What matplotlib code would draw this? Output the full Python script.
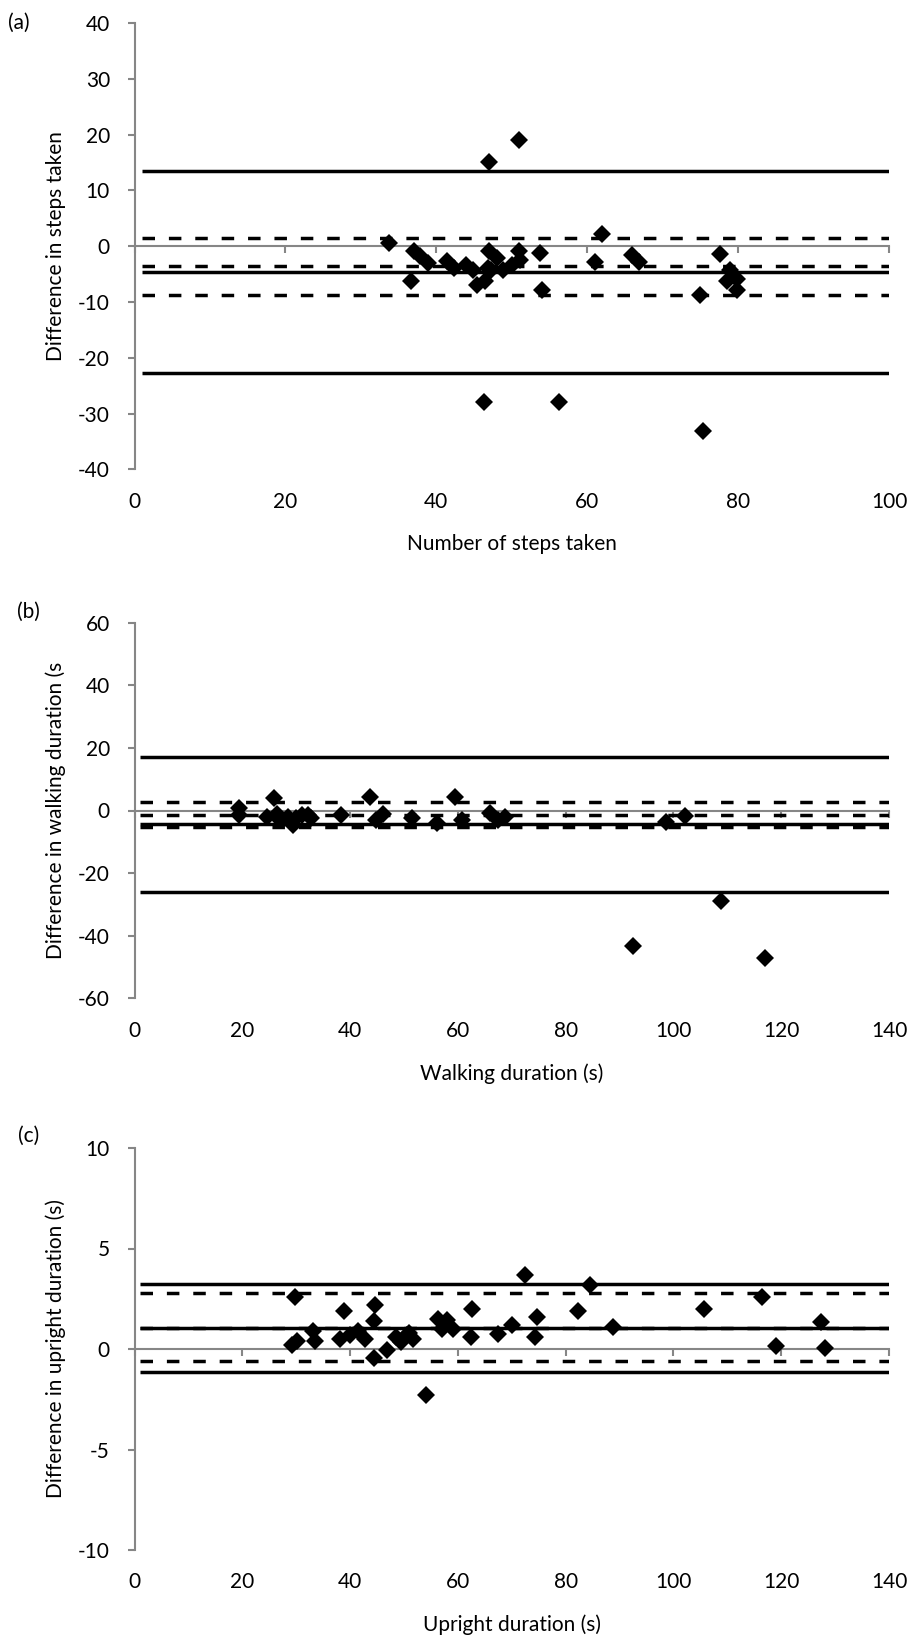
import matplotlib
matplotlib.use('Agg')
import matplotlib.pyplot as plt
import numpy as np

plt.rcParams['font.family'] = ['Lato', 'DejaVu Sans']
plt.rcParams['axes.unicode_minus'] = False

# Panel (a): steps taken
steps_x = [33.7, 36.7, 37.0, 37.8, 38.9, 41.4, 42.4, 44.0, 44.9, 45.4, 46.3, 46.5, 46.8,
           47.0, 47.0, 47.3, 48.0, 48.8, 50.0, 51.0, 51.0, 51.1, 53.7, 54.0, 56.3,
           61.0, 61.9, 65.9, 66.9, 74.9, 75.3, 77.6, 78.9, 78.5, 79.8, 79.8]
steps_y = [0.6, -6.3, -0.9, -1.8, -3.0, -2.7, -3.9, -3.3, -4.2, -6.9, -28.0, -6.3, -4.0,
           15.0, -0.8, -4.2, -2.1, -4.2, -3.3, 19.0, -0.8, -2.4, -1.3, -7.8, -28.0,
           -2.8, 2.2, -1.5, -2.8, -8.8, -33.2, -1.4, -4.3, -6.3, -5.8, -7.9]
# solid: limits of agreement and mean, dashed: confidence bounds
steps_solid = [13.5, -4.6, -22.8]
steps_dashed = [1.5, -3.6, -8.8]

# Panel (b): walking duration
walk_x = [19.3, 19.3, 24.5, 25.8, 26.5, 27.0, 28.5, 29.5, 30.0, 31.0, 32.2, 32.8,
          38.4, 43.7, 44.9, 46.2, 51.4, 56.1, 59.5, 60.7, 66.0, 67.5, 68.7,
          92.5, 98.7, 102.1, 108.9, 117.0]
walk_y = [0.7, -1.4, -2.0, 3.9, -1.0, -3.0, -2.0, -4.6, -2.5, -1.5, -1.4, -2.5,
          -1.4, 4.4, -3.0, -1.2, -2.5, -4.1, 4.4, -3.0, -0.9, -3.0, -2.2,
          -43.3, -3.6, -1.8, -29.0, -47.0]
walk_solid = [17.0, -4.4, -25.9]
walk_dashed = [2.6, -1.5, -5.4]

# Panel (c): upright duration
up_x = [29.8, 29.3, 30.1, 33.2, 33.5, 38.1, 38.9, 40.0, 41.5, 42.8, 44.6, 44.5, 44.5,
        46.8, 48.6, 49.5, 50.5, 51.0, 51.7, 54.0, 56.4, 57.0, 57.9, 59.1, 62.7, 62.4,
        67.5, 70.0, 72.4, 74.6, 74.3, 82.3, 84.5, 88.8, 105.7, 116.4, 119.0, 127.3, 128.2]
up_y = [2.6, 0.2, 0.4, 0.9, 0.4, 0.5, 1.9, 0.7, 0.9, 0.5, 2.2, 1.4, -0.45,
        -0.05, 0.6, 0.35, 0.7, 0.8, 0.5, -2.3, 1.5, 1.0, 1.45, 1.0, 2.0, 0.6,
        0.75, 1.2, 3.7, 1.6, 0.6, 1.9, 3.2, 1.1, 2.0, 2.6, 0.15, 1.35, 0.05]
up_solid = [3.25, 1.05, -1.15]
up_dashed = [2.8, 1.05, -0.6]

panels = [
    dict(tag='(a)', x=steps_x, y=steps_y, solid=steps_solid, dashed=steps_dashed,
         xmax=100, xticks=np.arange(0, 101, 20), ylim=40, ystep=10,
         xlabel='Number of steps taken', ylabel='Difference in steps taken',
         rect=[134.5, 23, 889, 469.3], tag_pos=(8, 23)),
    dict(tag='(b)', x=walk_x, y=walk_y, solid=walk_solid, dashed=walk_dashed,
         xmax=140, xticks=np.arange(0, 141, 20), ylim=60, ystep=20,
         xlabel='Walking duration (s)', ylabel='Difference in walking duration (s',
         rect=[134.5, 622.7, 889, 998.3], tag_pos=(17, 612)),
    dict(tag='(c)', x=up_x, y=up_y, solid=up_solid, dashed=up_dashed,
         xmax=140, xticks=np.arange(0, 141, 20), ylim=10, ystep=5,
         xlabel='Upright duration (s)', ylabel='Difference in upright duration (s)',
         rect=[134.5, 1148, 889, 1550], tag_pos=(18, 1136)),
]

W, H = 911, 1638
gray = '#868686'
fs = 15

fig = plt.figure(figsize=(W / 100, H / 100), dpi=100)

for p in panels:
    l, t, r, b = p['rect']
    ax = fig.add_axes([l / W, 1 - b / H, (r - l) / W, (b - t) / H])
    ax.set_xlim(0, p['xmax'])
    ax.set_ylim(-p['ylim'], p['ylim'])

    # reference lines
    xs = [1, p['xmax']]
    for v in p['dashed']:
        ax.plot(xs, [v, v], color='black', lw=2.5, linestyle=(0, (3.6, 4.0)),
                dash_capstyle='butt', zorder=2)
    for v in p['solid']:
        ax.plot(xs, [v, v], color='black', lw=2.5, solid_capstyle='butt', zorder=2)

    ax.plot(p['x'], p['y'], linestyle='none', marker='D', markersize=8.7,
            color='black', markeredgewidth=0, zorder=3)

    # axes styling
    for s in ['top', 'right']:
        ax.spines[s].set_visible(False)
    ax.spines['left'].set_color(gray)
    ax.spines['left'].set_linewidth(1.5)
    ax.spines['bottom'].set_position(('data', 0))
    ax.spines['bottom'].set_color(gray)
    ax.spines['bottom'].set_linewidth(1.5)
    ax.spines['bottom'].set_zorder(1)
    ax.set_yticks(np.arange(-p['ylim'], p['ylim'] + 1, p['ystep']))
    ax.set_xticks(p['xticks'])
    ax.tick_params(axis='y', direction='out', length=4.7, width=1.5, color=gray,
                   pad=13, labelsize=fs)
    ax.tick_params(axis='x', direction='out', length=5, width=1.5, color=gray,
                   labelbottom=False)

    sec = ax.secondary_xaxis(0)
    sec.set_xticks(p['xticks'])
    sec.spines['bottom'].set_visible(False)
    sec.tick_params(length=0, pad=16, labelsize=fs)

    ax.set_xlabel(p['xlabel'], fontsize=fs)
    ax.xaxis.set_label_coords(0.5, -(534 - 469.3) / (b - t))
    ax.set_ylabel(p['ylabel'], fontsize=fs)
    ax.yaxis.set_label_coords((66 - l) / (r - l), 0.5)

    tx, ty = p['tag_pos']
    fig.text(tx / W, 1 - ty / H, p['tag'], fontsize=fs, ha='left', va='center')

fig.savefig('out.png', dpi=100)
